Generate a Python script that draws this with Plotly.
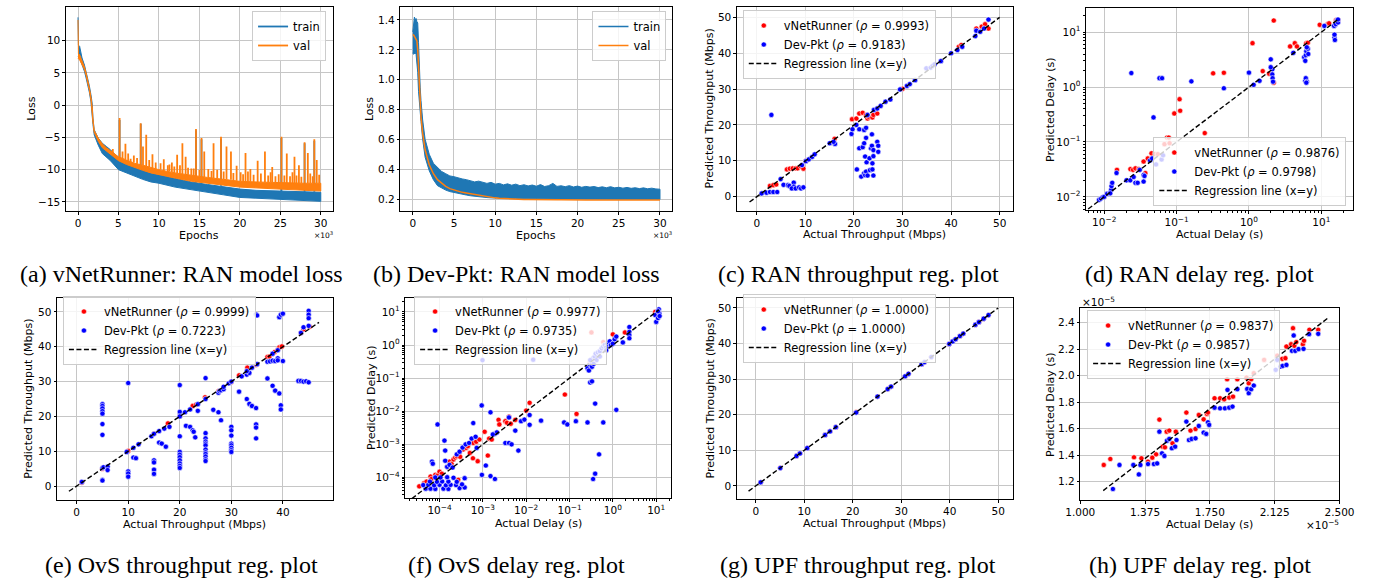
import plotly.graph_objects as go

W, H = 1376, 580
FONT = "DejaVu Sans"
SERIF = "Liberation Serif"
C_TRAIN, C_VAL = "#1f77b4", "#ff7f0e"
RED, BLUE = "#ff0000", "#0000ff"
GRID = "#c6c6c6"

# ---------------- data ----------------
# (a) vNetRunner RAN loss, epochs in thousands
a_ep = [0, 0.05, 0.2, 0.5, 0.8, 1.0, 1.2, 1.4, 1.6, 1.75, 1.85, 2.0, 2.5, 3.0, 3.5, 4.0,
        5.0, 6.0, 7.0, 8.0, 9.0, 10, 12, 14, 16, 18, 20, 22, 24, 26, 28, 30]
a_train_lo = [7.5, 7.4, 7.3, 6.2, 5.2, 4.2, 3.3, 2.0, 0.5, -1.5, -3.0, -4.6, -6.2, -7.5, -8.1, -8.6,
              -10.0, -10.5, -11.0, -11.5, -11.9, -12.1, -12.7, -13.1, -13.5, -13.9, -14.3, -14.5, -14.6, -14.7, -14.8, -14.9]
a_train_hi = [13.6, 9.3, 9.1, 7.3, 6.2, 5.2, 4.3, 3.0, 1.6, 0.3, -2.0, -3.8, -5.1, -5.9, -6.4, -6.9,
              -8.2, -9.0, -9.6, -10.1, -10.5, -10.8, -11.4, -11.9, -12.3, -12.7, -13.0, -13.2, -13.3, -13.4, -13.4, -13.5]
a_val_lo = [7.3, 7.2, 7.0, 6.4, 5.5, 4.6, 3.6, 2.3, 0.8, -1.0, -2.6, -4.2, -5.6, -6.6, -7.2, -7.6,
            -8.6, -9.2, -9.7, -10.1, -10.5, -10.8, -11.3, -11.8, -12.1, -12.4, -12.7, -12.9, -13.0, -13.1, -13.2, -13.3]
a_val_hi = [13.2, 8.0, 7.8, 6.9, 5.9, 5.0, 4.0, 2.7, 1.2, -0.2, -2.2, -3.9, -5.1, -6.0, -6.6, -7.1,
            -8.0, -8.5, -9.0, -9.3, -9.7, -10.0, -10.5, -10.9, -11.2, -11.5, -11.8, -11.9, -12.0, -12.1, -12.1, -12.1]
a_val_spike_ep = [4.3, 5.14, 5.86, 6.5, 7.75, 8.03, 8.43, 9.2, 10.6, 11.1, 11.6, 12.25, 12.9, 13.3, 14.0, 14.58,
                  15.26, 15.6, 16.75, 17.67, 18.35, 18.9, 19.6, 20.7, 21.3, 22.2, 23.1, 24.0, 25.14, 25.8,
                  26.75, 27.3, 28.0, 28.4, 29.2, 29.5,
                  5.5, 6.2, 6.9, 7.3, 8.8, 9.6, 10.2, 11.3, 11.9, 12.6, 13.6, 14.3, 15.0, 16.1, 16.5, 17.2,
                  18.0, 19.2, 20.1, 20.4, 21.0, 21.7, 22.6, 23.5, 23.8, 24.4, 24.8, 25.5, 26.2, 26.5, 27.0,
                  27.6, 28.7, 29.0, 29.8]
a_val_spike_base = [-7.5, -8.1, -8.4, -8.8, -9.2, -9.3, -9.5, -9.8, -10.2, -10.3, -10.4, -10.6, -10.7, -10.8, -10.9, -11.0,
                    -11.1, -11.15, -11.3, -11.4, -11.5, -11.55, -11.7, -11.8, -11.85, -11.9, -11.95, -12.0, -12.05, -12.05,
                    -12.1, -12.1, -12.1, -12.1, -12.1, -12.1,
                    -8.3, -8.6, -8.9, -9.1, -9.6, -9.9, -10.0, -10.3, -10.5, -10.6, -10.8, -10.95, -11.05, -11.2, -11.3,
                    -11.35, -11.5, -11.65, -11.8, -11.8, -11.85, -11.9, -11.9, -12.0, -12.0, -12.0, -12.05, -12.05,
                    -12.1, -12.1, -12.1, -12.1, -12.1, -12.1, -12.1]
a_val_spike_top = [-6.8, -2.0, -6.0, -8.3, -2.8, -6.4, -4.6, -7.6, -8.4, -9.3, -8.9, -7.7, -5.9, -8.0, -9.8, -3.7,
                   -5.1, -7.2, -5.9, -4.9, -6.4, -7.2, -9.4, -7.4, -9.9, -8.6, -7.2, -9.6, -4.9, -7.5,
                   -8.0, -9.3, -5.75, -7.4, -5.3, -8.5,
                   -7.2, -7.5, -7.8, -8.2, -8.5, -8.9, -9.0, -9.2, -9.5, -9.3, -9.7, -9.8, -10.0, -9.9, -10.2,
                   -10.0, -10.3, -10.5, -10.4, -10.7, -10.3, -10.8, -10.6, -10.9, -10.4, -11.0, -10.7, -10.9,
                   -11.0, -10.4, -10.9, -11.1, -10.6, -11.0, -10.8]
a_train_spike_ep = [5.14, 7.75, 14.58, 15.26, 17.67, 25.14, 28.0, 29.2]
a_train_spike_base = [-8.3, -9.8, -12.0, -12.1, -12.5, -13.3, -13.4, -13.4]
a_train_spike_top = [-2.3, -2.9, -3.9, -5.3, -5.3, -5.1, -5.9, -5.5]

# (b) Dev-Pkt RAN loss, epochs in thousands
b_ep = [0, 0.1, 0.2, 0.3, 0.4, 0.5, 0.6, 0.7, 0.8, 0.9, 1.0, 1.2, 1.5, 2.0, 2.5, 3.0, 3.5, 4.0, 4.5,
        5.0, 5.5, 6.0, 6.5, 7.0, 7.5, 8.0, 8.5, 9.0, 9.5, 10.0, 10.5, 11.0, 11.5, 12.0, 12.5, 13.0, 13.5,
        14.0, 14.5, 15.0, 15.5, 16.0, 16.5, 17.0, 17.5, 18.0, 18.5, 19.0, 19.5, 20.0, 20.5, 21.0, 21.5,
        22.0, 22.5, 23.0, 23.5, 24.0, 24.5, 25.0, 25.5, 26.0, 26.5, 27.0, 27.5, 28.0, 28.5, 29.0, 29.5, 30.0]
b_train_hi = [1.32, 1.38, 1.42, 1.40, 1.41, 1.39, 1.38, 1.25, 1.05, 0.95, 0.86, 0.73, 0.60, 0.50, 0.44, 0.41,
              0.385, 0.37, 0.355,
              0.35, 0.34, 0.335, 0.33, 0.325, 0.315, 0.32, 0.31, 0.305, 0.312, 0.30, 0.305, 0.295, 0.302,
              0.293, 0.30, 0.29, 0.296, 0.288, 0.294, 0.286, 0.297, 0.284, 0.29, 0.305, 0.285, 0.289, 0.283,
              0.29, 0.281, 0.287, 0.279, 0.285, 0.28, 0.284, 0.277, 0.282, 0.276, 0.283, 0.275, 0.279, 0.273,
              0.278, 0.272, 0.276, 0.27, 0.275, 0.269, 0.273, 0.268, 0.266]
b_train_lo = [1.18, 1.17, 1.17, 1.18, 1.17, 1.15, 1.05, 0.92, 0.85, 0.78, 0.72, 0.60, 0.48, 0.39, 0.33, 0.29,
              0.275, 0.26, 0.25,
              0.245, 0.238, 0.232, 0.227, 0.222, 0.218, 0.215, 0.212, 0.210, 0.208, 0.207, 0.206, 0.205, 0.204,
              0.203, 0.203, 0.202, 0.202, 0.201, 0.201, 0.201, 0.200, 0.200, 0.200, 0.200, 0.200, 0.200, 0.199,
              0.199, 0.199, 0.199, 0.199, 0.199, 0.199, 0.198, 0.198, 0.198, 0.198, 0.198, 0.198, 0.198, 0.198,
              0.197, 0.197, 0.197, 0.197, 0.197, 0.197, 0.197, 0.197, 0.197]
b_val = [1.30, 1.30, 1.29, 1.28, 1.27, 1.26, 1.20, 1.08, 0.93, 0.82, 0.75, 0.64, 0.53, 0.43, 0.37, 0.33,
         0.305, 0.285, 0.27,
         0.26, 0.252, 0.245, 0.24, 0.235, 0.231, 0.228, 0.223, 0.218, 0.213, 0.208, 0.205, 0.203, 0.201,
         0.200, 0.199, 0.198, 0.197, 0.197, 0.196, 0.196, 0.196, 0.195, 0.195, 0.195, 0.195, 0.195, 0.194,
         0.194, 0.194, 0.194, 0.194, 0.194, 0.194, 0.194, 0.193, 0.193, 0.193, 0.193, 0.193, 0.193, 0.193,
         0.193, 0.193, 0.193, 0.193, 0.193, 0.193, 0.193, 0.193, 0.193]

# (c) RAN throughput (Mbps): (actual, predicted)
c_vnr = [(2.7, 3.0), (3.4, 3.2), (4.0, 3.4), (6.2, 7.6), (6.8, 7.8), (7.4, 7.9), (8.0, 7.9), (8.4, 7.9),
         (9.1, 8.4), (9.6, 7.8), (19.6, 21.6), (20.5, 21.8), (21.1, 23.2), (21.8, 23.4), (22.5, 22.8),
         (22.8, 21.8), (23.0, 22.3), (23.8, 22.1), (24.0, 22.8), (24.8, 23.2), (41.6, 41.8), (42.1, 42.3),
         (45.2, 46.9), (46.3, 47.4), (47.0, 48.1), (47.7, 46.9), (10.1, 10.0), (16.0, 16.1), (30.0, 30.1)]
c_dev = [(1.0, 0.9), (2.0, 1.1), (2.7, 1.3), (3.4, 1.3), (4.2, 1.3), (4.9, 4.9), (5.5, 3.3), (6.4, 3.2),
         (6.7, 3.0), (7.6, 3.9), (7.6, 2.8), (7.2, 2.3), (8.0, 2.3), (8.7, 2.6), (9.1, 2.3), (9.6, 2.6),
         (9.3, 8.8), (10.1, 9.9), (10.7, 10.4), (11.4, 11.1), (11.9, 11.8), (15.0, 14.9), (16.1, 14.7),
         (15.8, 15.3), (19.5, 17.5), (19.7, 18.8), (20.5, 20.0), (21.1, 18.8), (22.1, 18.6), (22.5, 19.2),
         (20.6, 7.6), (21.1, 13.5), (21.8, 13.8), (22.1, 14.9), (22.5, 16.4), (21.5, 5.6), (22.1, 6.5),
         (22.3, 6.0), (22.5, 7.0), (22.8, 5.9), (23.3, 7.4), (23.8, 7.6), (24.0, 5.9), (22.3, 11.2),
         (22.6, 9.6), (23.2, 10.7), (23.5, 13.5), (23.7, 14.2), (23.7, 17.4), (24.0, 11.3), (23.8, 9.3),
         (24.0, 13.0), (24.8, 15.3), (25.0, 14.2), (25.0, 12.5), (3.0, 22.8), (22.8, 22.8), (24.1, 24.2),
         (24.8, 24.6), (25.5, 25.3), (26.5, 26.5), (27.5, 27.1), (29.5, 29.9), (30.9, 30.9), (31.5, 31.4),
         (32.6, 32.5), (34.9, 35.8), (35.8, 36.0), (36.2, 36.5), (36.6, 36.9), (37.9, 37.8), (40.0, 40.0),
         (41.3, 40.9), (42.3, 41.8), (45.0, 44.8), (45.2, 46.3), (46.0, 46.0), (46.8, 46.9), (47.7, 49.4)]
c_line = [-1.5, 50.0]

# (d) RAN delay (s)
d_vnr = [(0.015, 0.031), (0.023, 0.032), (0.025, 0.031), (0.027, 0.033), (0.030, 0.032), (0.035, 0.044),
         (0.037, 0.027), (0.045, 0.062), (0.050, 0.060), (0.055, 0.060), (0.068, 0.091), (0.074, 0.12),
         (0.078, 0.12), (0.080, 0.095), (0.093, 0.33), (0.11, 0.60), (0.112, 0.37), (0.245, 0.145),
         (0.32, 1.78), (0.45, 1.82), (1.12, 6.3), (1.55, 1.95), (1.9, 1.75), (2.2, 1.2), (2.2, 16.3),
         (3.7, 5.5), (4.3, 6.3), (4.6, 5.5), (6.2, 6.3), (6.5, 6.4), (9.5, 13.6), (12.3, 14.2), (12.8, 14.5),
         (16.0, 16.5), (17.0, 16.8), (0.040, 0.050), (0.010, 0.010)]
d_dev = [(0.0085, 0.0088), (0.009, 0.0093), (0.0095, 0.0098), (0.010, 0.010), (0.011, 0.0114), (0.012, 0.012),
         (0.0125, 0.0135), (0.0121, 0.0116), (0.0126, 0.0157), (0.0129, 0.018), (0.0148, 0.0272),
         (0.0203, 0.020), (0.0229, 0.020), (0.0255, 0.023), (0.027, 0.018), (0.029, 0.018), (0.0237, 1.8),
         (0.031, 0.031), (0.035, 0.025), (0.035, 0.019), (0.036, 0.024), (0.043, 0.046), (0.046, 0.050),
         (0.048, 0.28), (0.052, 0.039), (0.062, 0.048), (0.065, 0.057), (0.058, 1.45), (0.063, 1.45),
         (0.16, 1.27), (0.45, 0.95), (1.0, 1.83), (1.16, 1.1), (1.4, 1.3), (2.0, 3.2), (2.1, 2.1), (2.1, 1.7),
         (2.12, 1.45), (2.15, 1.25), (2.0, 2.3), (4.1, 4.2), (5.8, 3.5), (6.0, 3.0), (6.1, 3.8), (6.2, 4.5),
         (6.5, 5.0), (6.6, 4.0), (6.3, 5.3), (6.0, 1.3), (6.1, 1.45), (6.3, 1.25), (6.2, 1.2), (11.0, 13.0),
         (15.2, 8.0), (15.2, 9.0), (15.4, 7.2), (15.0, 13.0), (15.8, 14.0), (16.5, 16.5), (17.0, 15.0),
         (17.0, 17.0)]
d_line = [0.006, 17.5]

# (e) OvS throughput (Mbps)
e_vnr = [(15.0, 15.1), (17.7, 18.0), (22.5, 23.0), (23.2, 23.4), (24.9, 25.5), (27.5, 27.3), (31.5, 31.8),
         (33.1, 34.0), (34.8, 34.8), (37.0, 37.1), (37.4, 37.2), (38.0, 38.0), (38.4, 38.5), (39.0, 39.2),
         (39.3, 39.8), (39.8, 40.1), (43.5, 44.0), (44.0, 45.0), (45.2, 45.8), (1.0, 1.0), (5.0, 5.0),
         (10.0, 10.1), (20.0, 20.1), (30.0, 29.9)]
e_dev = [(1.0, 1.2), (5, 23.5), (5, 23.0), (5, 22.3), (5, 21.5), (5, 20.8), (5, 17.8), (5, 14.7), (5, 5.2),
         (5.2, 5.4), (5, 1.8), (5, 1.6), (6, 5.6), (6, 4.6), (10, 29.6), (9.7, 9.8), (10, 4.2), (10, 3.6),
         (10, 2.7), (11, 11), (11, 8.2), (11.5, 8), (12, 12), (14.5, 14.3), (15, 7.4), (15, 6.8), (15, 4.7),
         (15, 3.5), (15, 15), (16, 12.5), (16, 15.8), (16.5, 12.2), (17, 16.5), (17.3, 11.3), (18, 17),
         (20, 29), (20, 21.3), (20, 20), (20, 14.3), (20, 9.8), (20, 9), (20, 8.3), (20, 7.4), (20, 6.5),
         (20, 5.8), (20, 5.2), (21, 21.2), (21.2, 17.3), (22, 17), (22, 22), (22.5, 16), (22.7, 15.6),
         (23, 14), (23.5, 21.6), (23.5, 23.5), (25, 31), (25, 25), (25, 15.2), (25, 13.7), (25, 12.8),
         (25, 12.2), (25, 11.7), (25, 10.5), (25, 9.7), (25, 9.2), (25, 8.5), (25, 7.7), (25, 7.2),
         (26.5, 21.9), (27.5, 21.2), (27.5, 26.8), (27.7, 27.3), (28, 18.9), (28, 27.5), (28.5, 27.8),
         (28.5, 28.5), (29.5, 29.5), (30, 17), (30, 16), (30, 14.5), (30, 12.2), (30, 11.7), (30, 11),
         (30, 10.3), (30, 9.8), (30, 30), (31.5, 27.1), (32, 31.5), (33, 25), (33, 32), (33.5, 32.5),
         (33, 33), (33.5, 23.6), (34, 23), (34, 34), (34.8, 49.3), (35, 49), (34.8, 22.4), (35, 35),
         (34.8, 17.7), (34.8, 16.8), (34.8, 13.7), (37, 30.9), (37, 35.7), (37.5, 35.8), (38, 36),
         (38, 28.8), (38, 38), (38.5, 27.4), (38.5, 35.9), (39, 36.7), (39, 36.1), (39, 39), (39.3, 48.5),
         (39.3, 26.6), (39.6, 49.2), (39.6, 23.2), (39.6, 22), (40, 35.9), (40, 49.5), (43, 30.2),
         (43.5, 30.2), (43.5, 44), (44, 30), (44, 45.6), (44.5, 30.1), (45, 50.3), (45, 49.2), (45, 48.2),
         (45, 29.8), (45, 46)]
e_line = [-1.5, 47.0]

# (f) OvS delay (s)
f_vnr = [(3.4e-5, 5.4e-5), (4.4e-5, 6.8e-5), (5e-5, 7.5e-5), (6.2e-5, 1.07e-4), (6.5e-5, 9e-5), (8e-5, 1.2e-4),
         (9e-5, 1.15e-4), (1e-4, 1.5e-4), (1.13e-4, 1.3e-4), (1.5e-4, 2.1e-4), (1.7e-4, 3.0e-4), (1.9e-4, 2.6e-4),
         (2.1e-4, 3.5e-4), (2.3e-4, 4.0e-4), (2.5e-4, 4.4e-4), (2.9e-4, 5.5e-4), (3.0e-4, 4.2e-4), (2.7e-4, 8.5e-5),
         (3.5e-4, 7.0e-4), (4.1e-4, 7.8e-4), (4.5e-4, 8.8e-4), (5.9e-4, 3.8e-4), (6e-4, 1.1e-3), (7e-4, 1.2e-3),
         (7.6e-4, 3.1e-4), (8.3e-4, 1.4e-3), (1.1e-3, 2.4e-3), (1.3e-3, 4.6e-4), (1.4e-3, 1.5e-3),
         (1.6e-3, 1.4e-3), (2.3e-3, 5.5e-3), (2.4e-3, 4.0e-3), (3.3e-3, 5.0e-3), (3.6e-3, 4.5e-3),
         (4.0e-3, 6.9e-3), (4.4e-3, 4.2e-3), (5.6e-3, 5.5e-3), (1.2e-2, 1.8e-2), (7.8e-2, 3.2e-2),
         (0.145, 8.3e-3), (0.32, 2.4), (0.6, 1.23), (1.0, 2.1), (1.9, 2.4), (9.5, 10.0), (10.5, 9.0),
         (5e-4, 5.5e-4), (1e-2, 1.05e-2), (0.3, 0.3)]
f_dev = [(4.8e-5, 4.6e-5), (6.2e-5, 4.6e-5), (8e-5, 4.5e-5), (1.23e-4, 4.6e-5), (1.6e-4, 4.5e-5), (2.9e-4, 4.8e-5),
         (3.8e-4, 5e-5), (4.2e-5, 5.9e-5), (5.5e-5, 6e-5), (7.5e-5, 5.8e-5), (1e-4, 6e-5), (1.4e-4, 5.8e-5),
         (1.8e-4, 6e-5), (2.4e-4, 5.9e-5), (3.3e-4, 6.2e-5), (6e-5, 7.5e-5), (8.7e-5, 7.4e-5), (1.15e-4, 7.6e-5),
         (1.6e-4, 7.5e-5), (2.5e-4, 7.4e-5), (3.8e-4, 9.5e-5), (8e-5, 1e-4), (1.05e-4, 1e-4), (1.5e-4, 1.02e-4),
         (2.1e-4, 9.8e-5), (6.7e-5, 3e-4), (7e-5, 2.6e-4), (9e-5, 4e-3), (1.3e-4, 1.3e-3), (1.35e-4, 6.5e-4),
         (1.35e-4, 3.2e-4), (1.5e-4, 2.1e-4), (1.7e-4, 2.4e-4), (2e-4, 2e-4), (2.5e-4, 5e-4), (2.9e-4, 6e-4),
         (3.4e-4, 8e-4), (4e-4, 1e-3), (4.8e-4, 1.1e-3), (5.5e-4, 1.5e-3), (6.8e-4, 1.7e-3), (6e-4, 4.4e-3),
         (7.2e-4, 7.8e-4), (9.8e-4, 0.35), (9.4e-4, 1.5e-2), (9.5e-4, 1.2e-4), (1.17e-3, 2.3e-4),
         (1.5e-3, 9.3e-3), (1.5e-3, 1.1e-4), (1.9e-3, 9e-5), (1.9e-3, 2.1e-3), (2.1e-3, 2.3e-3),
         (1.7e-3, 2e-3), (3.3e-3, 1.1e-3), (4e-3, 1.1e-3), (4.6e-3, 1e-3), (4e-3, 6.5e-3), (5.6e-3, 2.6e-3),
         (6.6e-3, 6.5e-4), (7.6e-3, 5e-3), (9.1e-3, 5.6e-3), (1.2e-2, 3.9e-3), (1.2e-2, 7.7e-3),
         (1.45e-2, 0.36), (2.2e-2, 5.2e-3), (7.5e-2, 4.6e-3), (8.9e-2, 4e-3), (0.14, 5e-3), (0.26, 4.6e-3),
         (0.3, 0.074), (0.33, 0.08), (0.39, 0.017), (0.35, 9e-5), (0.39, 1.3e-4), (0.48, 5e-4), (0.6, 4.6e-3),
         (1.2, 0.011), (0.26, 0.2), (0.28, 0.17), (0.3, 0.25), (0.32, 0.3), (0.35, 0.4), (0.38, 0.45),
         (0.4, 0.55), (0.42, 0.35), (0.45, 0.6), (0.5, 0.65), (0.55, 0.8), (0.6, 0.9), (0.65, 1.0), (0.7, 0.85),
         (0.75, 1.1), (0.8, 1.2), (0.85, 1.3), (0.9, 1.0), (1.0, 1.1), (1.1, 1.5), (1.2, 1.8), (0.3, 0.35),
         (0.33, 0.22), (0.36, 0.27), (0.5, 0.45), (0.7, 0.7), (1.7, 1.2), (2.4, 3.5), (2.4, 2.5), (2.4, 2.0),
         (2.4, 1.6), (9.5, 8.0), (10.0, 5.0), (11.0, 6.5), (11.5, 12.0), (11.8, 9.0), (12.0, 7.5), (11.0, 10.5)]
f_line = [2.3e-5, 11.5]

# (g) UPF throughput (Mbps)
g_vnr = [(1.0, 1.0), (5.05, 5.05), (8.4, 8.4), (9.1, 9.1), (10.6, 10.6), (14.3, 14.3), (15.3, 15.3),
         (16.5, 16.5), (20.7, 20.7), (25.1, 25.1), (27.2, 27.2), (27.9, 27.9), (30.8, 30.8), (31.5, 31.5),
         (34.2, 34.2), (34.8, 34.8), (36.2, 36.2), (39.9, 39.9), (40.6, 40.6), (41.2, 41.2), (42.1, 42.1),
         (42.8, 42.8), (45.3, 45.3), (46.0, 46.0), (47.0, 47.0), (48.0, 48.0)]
g_dev = [(1.0, 1.0), (5.05, 5.0), (8.4, 8.4), (9.1, 9.1), (10.6, 10.6), (14.3, 14.3), (15.3, 15.3),
         (16.5, 16.5), (20.7, 20.6), (25.1, 25.1), (27.2, 27.2), (27.9, 27.9), (30.8, 30.8), (31.5, 31.5),
         (34.2, 34.2), (34.8, 34.8), (36.2, 36.2), (39.9, 39.9), (40.6, 40.6), (41.2, 41.2), (42.1, 42.1),
         (42.8, 42.8), (45.3, 45.3), (46.0, 46.0), (47.0, 47.0), (48.0, 48.0)]
g_line = [-1.5, 50.0]

# (h) UPF delay, in units of 1e-5 s
h_vnr = [(1.136, 1.326), (1.174, 1.371), (1.311, 1.384), (1.354, 1.376), (1.392, 1.351), (1.417, 1.381),
         (1.439, 1.406), (1.458, 1.668), (1.477, 1.464), (1.490, 1.459), (1.500, 1.577), (1.515, 1.585),
         (1.534, 1.489), (1.553, 1.577), (1.614, 1.721), (1.638, 1.585), (1.667, 1.597), (1.686, 1.703),
         (1.714, 1.670), (1.733, 1.711), (1.739, 1.721), (1.777, 1.829), (1.809, 1.829), (1.833, 1.821),
         (1.850, 1.972), (1.862, 1.834), (1.884, 1.841), (1.909, 1.972), (1.962, 1.985), (1.975, 1.942),
         (1.989, 1.972), (2.004, 2.018), (2.064, 2.118), (2.140, 2.150), (2.169, 2.126), (2.187, 2.131),
         (2.193, 2.219), (2.220, 2.236), (2.231, 2.357), (2.239, 2.224), (2.250, 2.252), (2.288, 2.236),
         (2.295, 2.262), (2.326, 2.345), (2.377, 2.345)]
h_dev = [(1.189, 1.145), (1.227, 1.326), (1.307, 1.326), (1.339, 1.255), (1.348, 1.326), (1.392, 1.333),
         (1.426, 1.333), (1.445, 1.338), (1.458, 1.577), (1.473, 1.414), (1.487, 1.394), (1.502, 1.509),
         (1.515, 1.522), (1.530, 1.452), (1.549, 1.464), (1.557, 1.514), (1.614, 1.653), (1.629, 1.514),
         (1.644, 1.522), (1.667, 1.527), (1.686, 1.620), (1.714, 1.570), (1.729, 1.560), (1.739, 1.648),
         (1.746, 1.628), (1.777, 1.758), (1.809, 1.753), (1.837, 1.753), (1.852, 1.892), (1.862, 1.758),
         (1.881, 1.766), (1.909, 1.897), (1.966, 1.899), (1.975, 1.867), (1.989, 1.897), (2.004, 1.925),
         (2.131, 2.043), (2.140, 2.118), (2.159, 2.068), (2.172, 2.073), (2.193, 2.080), (2.225, 2.186),
         (2.235, 2.302), (2.244, 2.186), (2.263, 2.199), (2.292, 2.201), (2.324, 2.312), (2.377, 2.314)]
h_line = [1.133, 2.435]

rho = {3: ("0.9993", "0.9183"), 4: ("0.9876", "0.9798"), 5: ("0.9999", "0.7223"),
       6: ("0.9977", "0.9735"), 7: ("1.0000", "1.0000"), 8: ("0.9837", "0.9857")}

captions = ["(a) vNetRunner: RAN model loss", "(b) Dev-Pkt: RAN model loss",
            "(c) RAN throughput reg. plot", "(d) RAN delay reg. plot",
            "(e) OvS throughput reg. plot", "(f) OvS delay reg. plot",
            "(g) UPF throughput reg. plot", "(h) UPF delay reg. plot"]
x_titles = {1: "Epochs", 2: "Epochs", 3: "Actual Throughput (Mbps)", 4: "Actual Delay (s)",
            5: "Actual Throughput (Mbps)", 6: "Actual Delay (s)", 7: "Actual Throughput (Mbps)", 8: "Actual Delay (s)"}
y_titles = {1: "Loss", 2: "Loss", 3: "Predicted Throughput (Mbps)", 4: "Predicted Delay (s)",
            5: "Predicted Throughput (Mbps)", 6: "Predicted Delay (s)", 7: "Predicted Throughput (Mbps)",
            8: "Predicted Delay (s)"}

epoch_ticks = [0, 5, 10, 15, 20, 25, 30]
tput_ticks = [0, 10, 20, 30, 40, 50]
M = "\u2212"
def pow_lbl(p):
    return "10<sup>" + (M + str(-p) if p < 0 else str(p)) + "</sup>"
d_ticks = [1e-2, 1e-1, 1, 10]
d_ticktext = [pow_lbl(p) for p in (-2, -1, 0, 1)]
f_ticks = [1e-4, 1e-3, 1e-2, 1e-1, 1, 10]
f_ticktext = [pow_lbl(p) for p in (-4, -3, -2, -1, 0, 1)]
h_xticks = [1.0, 1.375, 1.75, 2.125, 2.5]
h_yticks = [1.2, 1.4, 1.6, 1.8, 2.0, 2.2, 2.4]

# ---------------- layout geometry (pixels) ----------------
PANELS = {1: (52, 325, 7, 211), 2: (394, 672, 7, 211), 3: (738, 1020, 7, 211), 4: (1095, 1368, 8, 210),
          5: (43, 325, 298, 500), 6: (399, 671, 298, 498), 7: (738, 1020, 298, 499), 8: (1089, 1354, 308, 500)}
XT_POS = {1: (188, 235), 2: (533, 235), 3: (879, 234), 4: (1231, 234),
          5: (184, 524), 6: (535, 523), 7: (879, 523), 8: (1221, 524)}
YT_POS = {1: (17, 109), 2: (363, 109), 3: (710, 109), 4: (1059, 109),
          5: (13, 399), 6: (364, 398), 7: (711, 398), 8: (1059, 404)}
CAP_X = [170, 513, 862, 1211]
CAP_Y = [274, 565]

def xa(i): return "x" if i == 1 else f"x{i}"
def ya(i): return "y" if i == 1 else f"y{i}"
def lg(i): return "legend" if i == 1 else f"legend{i}"

fig = go.Figure()

def band(i, xs, lo, hi, color):
    fig.add_trace(go.Scatter(x=list(xs) + list(xs)[::-1], y=list(hi) + list(lo)[::-1], mode="lines",
                             fill="toself", fillcolor=color, line=dict(color=color, width=1),
                             showlegend=False, hoverinfo="skip", xaxis=xa(i), yaxis=ya(i)))

def spikes(i, ep, base, top, color, name, show):
    xs, ys = [], []
    for e, b, t in zip(ep, base, top):
        xs += [e, e, None]
        ys += [b, t, None]
    fig.add_trace(go.Scatter(x=xs, y=ys, mode="lines", line=dict(color=color, width=1.8), name=name,
                             showlegend=show, legend=lg(i), xaxis=xa(i), yaxis=ya(i)))

# (a)
band(1, a_ep, a_train_lo, a_train_hi, C_TRAIN)
spikes(1, a_train_spike_ep, a_train_spike_base, a_train_spike_top, C_TRAIN, "train", True)
band(1, a_ep, a_val_lo, a_val_hi, C_VAL)
spikes(1, a_val_spike_ep, a_val_spike_base, a_val_spike_top, C_VAL, "val", True)

# (b)
band(2, b_ep, b_train_lo, b_train_hi, C_TRAIN)
fig.add_trace(go.Scatter(x=[None], y=[None], mode="lines", line=dict(color=C_TRAIN, width=1.5), name="train",
                         legend=lg(2), xaxis=xa(2), yaxis=ya(2)))
fig.add_trace(go.Scatter(x=b_ep, y=b_val, mode="lines", line=dict(color=C_VAL, width=1.5), name="val",
                         legend=lg(2), xaxis=xa(2), yaxis=ya(2)))

# scatter panels
sets = {3: (c_vnr, c_dev, c_line), 4: (d_vnr, d_dev, d_line), 5: (e_vnr, e_dev, e_line),
        6: (f_vnr, f_dev, f_line), 7: (g_vnr, g_dev, g_line), 8: (h_vnr, h_dev, h_line)}
for i, (vnr, dev, line) in sets.items():
    r1, r2 = rho[i]
    for pts, col, nm in ((vnr, RED, "vNetRunner"), (dev, BLUE, "Dev-Pkt")):
        r = r1 if nm == "vNetRunner" else r2
        fig.add_trace(go.Scatter(x=[p[0] for p in pts], y=[p[1] for p in pts], mode="markers",
                                 marker=dict(color=col, size=5.2, line=dict(color="white", width=0.6)),
                                 name=f"{nm} (<i>ρ</i> = {r})", legend=lg(i), xaxis=xa(i), yaxis=ya(i)))
    fig.add_trace(go.Scatter(x=line, y=line, mode="lines", line=dict(color="black", width=1.4, dash="5px,2.5px"),
                             name="Regression line (x=y)", legend=lg(i), xaxis=xa(i), yaxis=ya(i)))

# ---------------- axes ----------------
layout = {}
def common():
    return dict(showline=True, linecolor="black", linewidth=1, mirror=True, ticks="outside", ticklen=2.5,
                tickwidth=0.9, tickcolor="black", showgrid=True, gridcolor=GRID, gridwidth=1.2,
                zeroline=False, tickfont=dict(family=FONT, size=10.5, color="black"))

def axes(i, xr, yr, xt, yt, xtt=None, ytt=None, log=False, xfmt=None, yfmt=None):
    x0, x1, y0, y1 = PANELS[i]
    xd = common(); yd = common()
    xd.update(domain=[x0 / W, x1 / W], anchor=ya(i), range=xr, tickvals=xt)
    yd.update(domain=[1 - y1 / H, 1 - y0 / H], anchor=xa(i), range=yr, tickvals=yt)
    if xtt: xd["ticktext"] = xtt
    if ytt: yd["ticktext"] = ytt
    if xfmt: xd["tickformat"] = xfmt
    if yfmt: yd["tickformat"] = yfmt
    if log:
        for d in (xd, yd):
            d["type"] = "log"
            d["minor"] = dict(ticks="outside", ticklen=2, tickcolor="black", dtick="D1", showgrid=False)
    layout["xaxis" if i == 1 else f"xaxis{i}"] = xd
    layout["yaxis" if i == 1 else f"yaxis{i}"] = yd

axes(1, [-1.5, 31.5], [-16.4, 15.2], epoch_ticks, [-15, -10, -5, 0, 5, 10])
axes(2, [-1.5, 31.5], [0.12, 1.487], epoch_ticks, [0.2, 0.4, 0.6, 0.8, 1.0, 1.2, 1.4], yfmt=".1f")
axes(3, [-4.1, 52.7], [-4.0, 52.9], tput_ticks, tput_ticks)
axes(4, [-2.25, 1.44], [-2.24, 1.44], d_ticks, d_ticks, xtt=d_ticktext, ytt=d_ticktext, log=True)
axes(5, [-3.8, 49.7], [-4.0, 54.0], [0, 10, 20, 30, 40], tput_ticks)
axes(6, [-4.79, 1.35], [-4.62, 1.42], f_ticks, f_ticks, xtt=f_ticktext, ytt=f_ticktext, log=True)
axes(7, [-3.9, 53.0], [-3.7, 52.8], tput_ticks, tput_ticks)
axes(8, [1.0, 2.5], [1.062, 2.509], h_xticks, h_yticks, xfmt=".3f", yfmt=".1f")

# ---------------- legends ----------------
LEG = dict(bgcolor="rgba(255,255,255,0.8)", bordercolor="#cccccc", borderwidth=1,
           font=dict(family=FONT, size=11.5, color="black"), tracegroupgap=0, itemwidth=30)
leg_pos = {1: (318, 11, "right", "top"), 2: (666, 11, "right", "top"), 3: (744, 10, "left", "top"),
           4: (1361, 206, "right", "bottom"), 5: (49, 296, "left", "top"), 6: (408, 296, "left", "top"),
           7: (744, 294, "left", "top"), 8: (1096, 310, "left", "top")}
for i, (lx, ly, xan, yan) in leg_pos.items():
    layout[lg(i)] = dict(LEG, x=lx / W, y=1 - ly / H, xanchor=xan, yanchor=yan)

# ---------------- annotations ----------------
ann = []
def pa(text, px, py, size, family=FONT, xanchor="center", angle=0):
    ann.append(dict(text=text, x=px / W, y=1 - py / H, xref="paper", yref="paper", showarrow=False,
                    xanchor=xanchor, yanchor="middle", textangle=angle,
                    font=dict(family=family, size=size, color="black")))

for k, txt in enumerate(captions):
    pa(txt, CAP_X[k % 4], CAP_Y[k // 4], 24, family=SERIF)
for i in PANELS:
    pa(x_titles[i], *XT_POS[i], 11)
    pa(y_titles[i], *YT_POS[i], 11, angle=-90)
for rx in (327, 674):
    pa("×10<sup>3</sup>", rx, 235, 7.5, xanchor="right")
pa("×10<sup>" + M + "5</sup>", 1089, 301, 10.5, xanchor="left")
pa("×10<sup>" + M + "5</sup>", 1356, 524, 10.5, xanchor="right")

fig.update_layout(width=W, height=H, margin=dict(l=0, r=0, t=0, b=0), paper_bgcolor="white",
                  plot_bgcolor="white", annotations=ann, font=dict(family=FONT, color="black"), **layout)

fig.write_html("out.html", config={"displayModeBar": False},
               post_script="document.body.style.margin='0px';document.body.style.overflow='hidden';")
